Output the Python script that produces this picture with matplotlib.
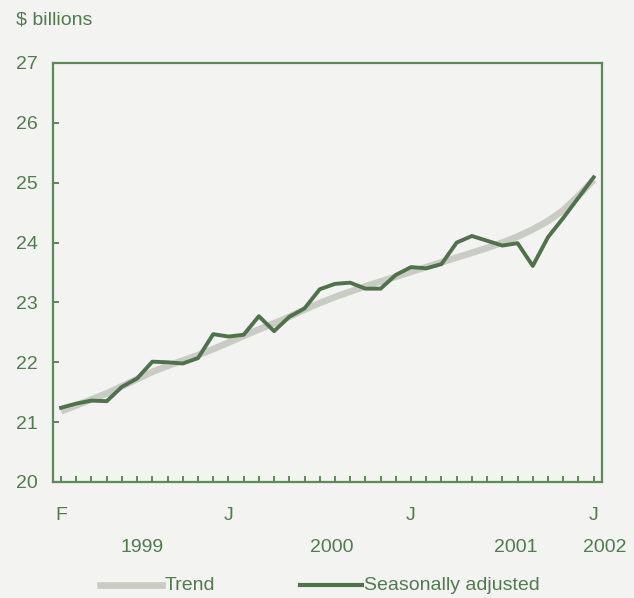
import matplotlib
matplotlib.use("Agg")
import matplotlib.pyplot as plt
from matplotlib.lines import Line2D
from matplotlib.transforms import blended_transform_factory

plt.rcParams['font.family'] = ['Liberation Sans', 'DejaVu Sans']

# Monthly data Feb 1999 .. Jan 2002 ($ billions)
months = ['F99', 'M', 'A', 'M', 'J', 'J', 'A', 'S', 'O', 'N', 'D',
          'J00', 'F', 'M', 'A', 'M', 'J', 'J', 'A', 'S', 'O', 'N', 'D',
          'J01', 'F', 'M', 'A', 'M', 'J', 'J', 'A', 'S', 'O', 'N', 'D',
          'J02']
seasonally_adjusted = [21.24, 21.31, 21.36, 21.35, 21.59, 21.73, 22.01, 22.0, 21.98, 22.07, 22.47,
                       22.43, 22.46, 22.77, 22.52, 22.76, 22.9, 23.22, 23.31, 23.33, 23.23, 23.23, 23.46,
                       23.59, 23.57, 23.64, 24.0, 24.11, 24.03, 23.95, 23.99, 23.61, 24.09, 24.41, 24.75,
                       25.09]
trend = [21.18, 21.28, 21.38, 21.48, 21.6, 21.72, 21.84, 21.94, 22.03, 22.12, 22.22,
         22.33, 22.44, 22.55, 22.65, 22.76, 22.88, 22.99, 23.09, 23.18, 23.27, 23.35, 23.43,
         23.51, 23.59, 23.67, 23.75, 23.83, 23.91, 24.0, 24.1, 24.22, 24.36, 24.54, 24.78,
         25.05]
month_tick_labels = ['F', 'J', 'J', 'J']
month_tick_index = [0, 11, 23, 35]
year_labels = ['1999', '2000', '2001', '2002']
year_label_pos = [5.3, 17.8, 29.9, 35.7]
y_ticks = [20, 21, 22, 23, 24, 25, 26, 27]

bg = '#f3f3f1'
frame_c = '#5b8a57'
text_c = '#4f7d4c'
sa_c = '#4e7349'
trend_c = '#c9ccc4'
FS = 14

fig = plt.figure(figsize=(6.34, 5.98), dpi=100, facecolor=bg)
ax = fig.add_axes([53/634, 1-482/598, (602-53)/634, (482-63)/598])
ax.set_facecolor(bg)

x = list(range(len(months)))
ax.plot(x, trend, color=trend_c, lw=4.8, solid_capstyle='butt', zorder=2)
ax.plot(x, seasonally_adjusted, color=sa_c, lw=2.8, solid_joinstyle='round', zorder=3)

ax.set_xlim(-0.53, 35.55)
ax.set_ylim(20, 27)
for s in ax.spines.values():
    s.set_color(frame_c)
    s.set_linewidth(1.6)

ax.set_yticks(y_ticks)
ax.set_yticklabels([str(v) for v in y_ticks], fontsize=FS, color=text_c)
ax.tick_params(axis='y', direction='in', length=4, width=1.4, color=frame_c, pad=11)
ax.set_xticks(x)
ax.set_xticklabels([])
ax.tick_params(axis='x', direction='in', length=4, width=1.4, color=frame_c)

trans = blended_transform_factory(ax.transData, fig.transFigure)
for lab, i in zip(month_tick_labels, month_tick_index):
    fig.text(i, 1-516/598, lab, transform=trans, ha='center', va='center',
             fontsize=FS, color=text_c)
for lab, p in zip(year_labels, year_label_pos):
    fig.text(p, 1-547/598, lab, transform=trans, ha='center', va='center',
             fontsize=FS, color=text_c)

fig.text(16/634, 1-20/598, '$ billions', ha='left', va='center', fontsize=FS, color=text_c)

# legend
yl = 1-585/598
fig.add_artist(Line2D([100/634, 162/634], [yl, yl], color=trend_c, lw=4.8))
fig.text(165/634, yl, 'Trend', ha='left', va='center', fontsize=FS, color=text_c)
fig.add_artist(Line2D([300/634, 362/634], [yl, yl], color=sa_c, lw=3))
fig.text(364/634, yl, 'Seasonally adjusted', ha='left', va='center', fontsize=FS, color=text_c)

fig.savefig('out.png', dpi=100, facecolor=bg)
